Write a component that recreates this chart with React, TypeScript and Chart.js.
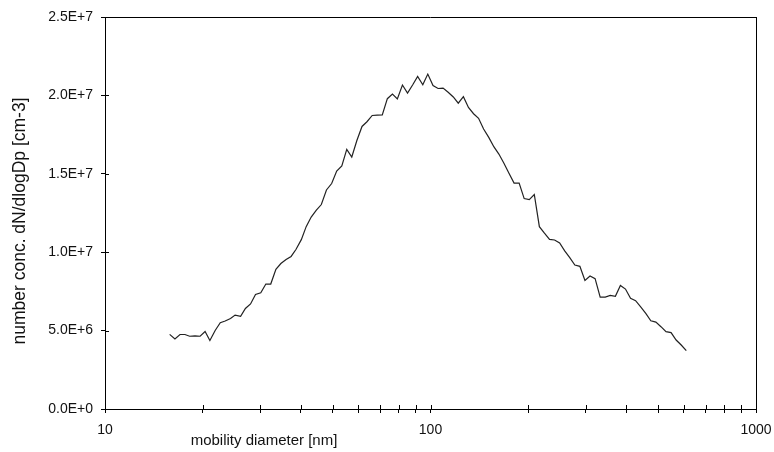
import React, { useEffect, useRef } from "react";
import { Chart, registerables } from "chart.js";

Chart.register(...registerables);

// mobility diameter [nm]
const diameters: number[] = [
  15.8, 16.4, 17.0, 17.6, 18.2, 18.9, 19.6, 20.3, 21.0, 21.8,
  22.6, 23.4, 24.3, 25.1, 26.1, 27.0, 28.0, 29.0, 30.1, 31.2,
  32.3, 33.5, 34.7, 36.0, 37.3, 38.6, 40.1, 41.5, 43.0, 44.6,
  46.2, 47.9, 49.7, 51.5, 53.4, 55.3, 57.3, 59.4, 61.6, 63.8,
  66.2, 68.6, 71.1, 73.7, 76.4, 79.1, 82.0, 85.0, 88.1, 91.3,
  94.7, 98.1, 101.8, 105.5, 109.3, 113.3, 117.5, 121.7, 126.2, 130.8,
  135.6, 140.5, 145.6, 151.0, 156.5, 162.2, 168.1, 174.2, 180.6, 187.2,
  194.0, 201.1, 208.4, 216.0, 223.9, 232.1, 240.5, 249.3, 258.4, 267.8,
  277.6, 287.7, 298.2, 309.1, 320.4, 332.1, 344.2, 356.7, 369.8, 383.2,
  397.2, 411.7, 426.7, 442.3, 458.5, 475.2, 492.5, 510.5, 529.1, 548.4,
  568.4, 589.2, 610.7,
];

// number conc. dN/dlogDp [cm-3]
const concentration: number[] = [
  4.76e6, 4.46e6, 4.75e6, 4.75e6, 4.64e6, 4.66e6, 4.64e6, 4.94e6, 4.37e6, 5.01e6,
  5.50e6, 5.61e6, 5.77e6, 5.99e6, 5.91e6, 6.41e6, 6.70e6, 7.30e6, 7.41e6, 7.97e6,
  7.97e6, 8.91e6, 9.28e6, 9.53e6, 9.73e6, 10.17e6, 10.80e6, 11.63e6, 12.24e6, 12.69e6,
  13.04e6, 13.97e6, 14.38e6, 15.18e6, 15.50e6, 16.56e6, 16.07e6, 17.12e6, 18.02e6, 18.32e6,
  18.72e6, 18.74e6, 18.75e6, 19.79e6, 20.09e6, 19.77e6, 20.66e6, 20.15e6, 20.66e6, 21.21e6,
  20.68e6, 21.36e6, 20.63e6, 20.44e6, 20.47e6, 20.20e6, 19.90e6, 19.50e6, 19.92e6, 19.23e6,
  18.83e6, 18.54e6, 17.86e6, 17.32e6, 16.73e6, 16.26e6, 15.67e6, 15.03e6, 14.41e6, 14.41e6,
  13.42e6, 13.35e6, 13.68e6, 11.63e6, 11.21e6, 10.82e6, 10.78e6, 10.59e6, 10.08e6, 9.65e6,
  9.18e6, 9.10e6, 8.20e6, 8.48e6, 8.31e6, 7.14e6, 7.14e6, 7.24e6, 7.19e6, 7.88e6,
  7.65e6, 7.06e6, 6.91e6, 6.52e6, 6.10e6, 5.63e6, 5.54e6, 5.25e6, 4.93e6, 4.87e6,
  4.40e6, 4.08e6, 3.72e6,
];

const xTickValues: number[] = [
  10, 20, 30, 40, 50, 60, 70, 80, 90,
  100, 200, 300, 400, 500, 600, 700, 800, 900, 1000,
];
const xLabelValues: number[] = [10, 100, 1000];
const yMin = 0;
const yMax = 2.5e7;
const yStep = 5e6;

const xTitle = "mobility diameter [nm]";
const yTitle = "number conc. dN/dlogDp [cm-3]";

const FONT = "'Liberation Sans', Arial, sans-serif";
const TEXT_COLOR = "#111";

const framePlugin = {
  id: "frame",
  afterDraw(chart: any) {
    const { ctx, chartArea, scales } = chart;
    const { left, right, top, bottom } = chartArea;
    ctx.save();
    ctx.strokeStyle = "#000";
    ctx.lineWidth = 1;
    // top and right border
    ctx.beginPath();
    ctx.moveTo(left, Math.round(top) + 0.5);
    ctx.lineTo(right, Math.round(top) + 0.5);
    ctx.moveTo(Math.round(right) + 0.5, top);
    ctx.lineTo(Math.round(right) + 0.5, bottom);
    ctx.stroke();
    // inner halves of the crossing tick marks
    ctx.beginPath();
    for (const v of xTickValues) {
      const px = Math.round(scales.x.getPixelForValue(v)) + 0.5;
      ctx.moveTo(px, bottom);
      ctx.lineTo(px, bottom - 4);
    }
    for (let v = yMin; v <= yMax; v += yStep) {
      const py = Math.round(scales.y.getPixelForValue(v)) + 0.5;
      ctx.moveTo(left, py);
      ctx.lineTo(left + 4, py);
    }
    ctx.stroke();
    // axis titles
    ctx.fillStyle = TEXT_COLOR;
    ctx.textAlign = "center";
    ctx.textBaseline = "middle";
    ctx.font = `15px ${FONT}`;
    ctx.fillText(xTitle, left + 159, bottom + 32);
    ctx.translate(20, (top + bottom) / 2 + 8);
    ctx.rotate(-Math.PI / 2);
    ctx.font = `17.5px ${FONT}`;
    ctx.fillText(yTitle, 0, 0);
    ctx.restore();
  },
};

export default function App() {
  const canvasRef = useRef<HTMLCanvasElement | null>(null);

  useEffect(() => {
    const canvas = canvasRef.current;
    if (!canvas) return;
    const points = diameters.map((d, i) => ({ x: d, y: concentration[i] }));
    const chart = new Chart(canvas, {
      type: "line",
      data: {
        datasets: [
          {
            data: points,
            borderColor: "#222",
            borderWidth: 1.2,
            pointRadius: 0,
            tension: 0,
            fill: false,
          },
        ],
      },
      options: {
        responsive: false,
        animation: false,
        devicePixelRatio: 1,
        layout: { padding: { top: 17, right: 18, left: 0, bottom: 0 } },
        plugins: {
          legend: { display: false },
          tooltip: { enabled: false },
          title: { display: false },
        },
        scales: {
          x: {
            type: "logarithmic",
            min: 10,
            max: 1000,
            afterBuildTicks: (s: any) => {
              s.ticks = xTickValues.map((v) => ({ value: v }));
            },
            afterFit: (s: any) => {
              s.height = 43;
              s.paddingRight = 0;
              s.paddingLeft = 0;
            },
            ticks: {
              autoSkip: false,
              maxRotation: 0,
              minRotation: 0,
              padding: 9,
              color: TEXT_COLOR,
              font: { family: FONT, size: 14 },
              callback: (v: any) => (xLabelValues.includes(Number(v)) ? String(v) : ""),
            },
            grid: {
              drawOnChartArea: false,
              drawTicks: true,
              tickLength: 4,
              color: "#000",
              lineWidth: 1,
            },
            border: { display: true, color: "#000", width: 1 },
          },
          y: {
            type: "linear",
            min: yMin,
            max: yMax,
            afterFit: (s: any) => {
              s.width = 105;
            },
            ticks: {
              stepSize: yStep,
              padding: 8,
              color: TEXT_COLOR,
              font: { family: FONT, size: 14 },
              callback: (v: any) => Number(v).toExponential(1).toUpperCase(),
            },
            grid: {
              drawOnChartArea: false,
              drawTicks: true,
              tickLength: 4,
              color: "#000",
              lineWidth: 1,
            },
            border: { display: true, color: "#000", width: 1 },
          },
        },
      },
      plugins: [framePlugin],
    });
    return () => chart.destroy();
  }, []);

  return (
    <div style={{ position: "fixed", left: 0, top: 0, width: 774, height: 452, background: "#fff" }}>
      <canvas ref={canvasRef} width={774} height={452} style={{ display: "block" }} />
    </div>
  );
}
